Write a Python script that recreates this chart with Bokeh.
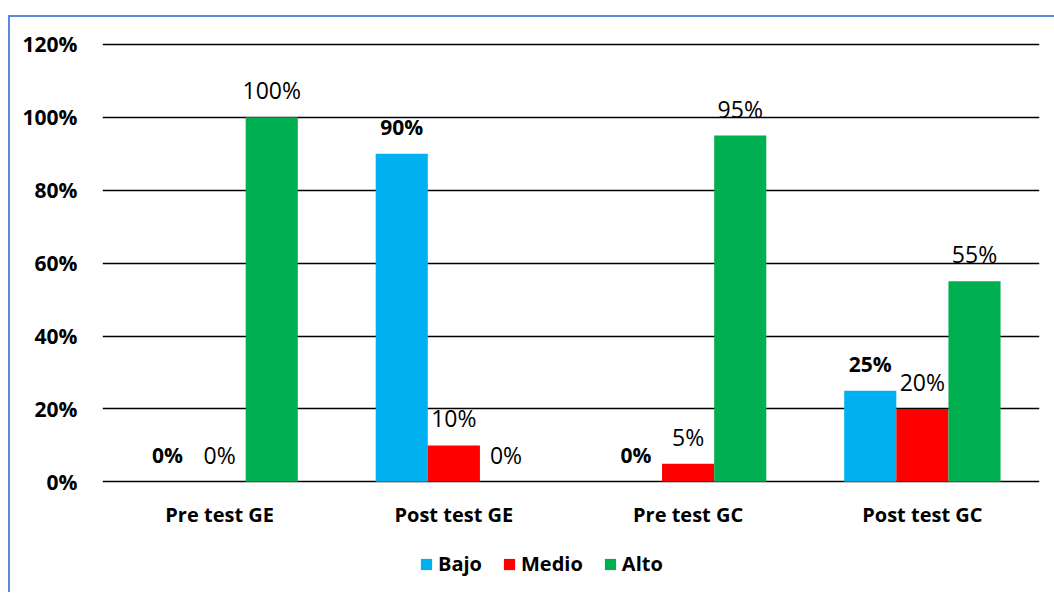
from bokeh.plotting import figure
from bokeh.layouts import column
from bokeh.models import (ColumnDataSource, FactorRange, Range1d, Legend, LegendItem,
                          FixedTicker, NumeralTickFormatter)
from bokeh.transform import dodge
from bokeh.core.properties import value
from bokeh.embed import file_html
from bokeh.resources import INLINE

# Data
groups = ["Pre test GE", "Post test GE", "Pre test GC", "Post test GC"]
bajo = [0.00, 0.90, 0.00, 0.25]
medio = [0.00, 0.10, 0.05, 0.20]
alto = [1.00, 0.00, 0.95, 0.55]
series = ["Bajo", "Medio", "Alto"]
colors = ["#00B0F0", "#FF0000", "#00B050"]
y_ticks = [0, 0.2, 0.4, 0.6, 0.8, 1.0, 1.2]

FONT = "Open Sans"
BAR_W = 0.2225

# Main bar chart
p = figure(x_range=FactorRange(*groups), y_range=Range1d(-0.01, 1.23),
           width=1046, height=518, output_backend="svg", toolbar_location=None,
           min_border_left=92, min_border_right=17, min_border_top=16,
           min_border_bottom=50)
p.outline_line_color = None

p.xgrid.grid_line_color = None
p.ygrid.ticker = FixedTicker(ticks=y_ticks)
p.ygrid.grid_line_color = "#000000"
p.ygrid.grid_line_width = 1.5

p.yaxis.ticker = FixedTicker(ticks=y_ticks)
p.yaxis.formatter = NumeralTickFormatter(format="0%")
for ax in (p.xaxis, p.yaxis):
    ax.axis_line_color = None
    ax.major_tick_line_color = None
    ax.minor_tick_line_color = None
    ax.major_label_text_font = FONT
    ax.major_label_text_font_style = "bold"
    ax.major_label_text_color = "#000000"
p.yaxis.major_label_text_font_size = "21px"
p.xaxis.major_label_text_font_size = "20px"
p.yaxis.major_label_standoff = 19
p.xaxis.major_label_standoff = 9

src = ColumnDataSource(dict(
    group=groups,
    Bajo=bajo, Medio=medio, Alto=alto,
    Bajo_lbl=[f"{round(v * 100)}%" for v in bajo],
    Medio_lbl=[f"{round(v * 100)}%" for v in medio],
    Alto_lbl=[f"{round(v * 100)}%" for v in alto],
))

offsets = [-BAR_W, 0.0, BAR_W]
for name, col, off in zip(series, colors, offsets):
    p.vbar(x=dodge("group", off, range=p.x_range), top=name, width=BAR_W,
           source=src, fill_color=col, line_color=None)
    bold = name == "Bajo"
    p.text(x=dodge("group", off, range=p.x_range), y=name, text=name + "_lbl",
           source=src, text_align="center", text_baseline="middle",
           y_offset=-27, text_font=value(FONT),
           text_font_style="bold" if bold else "normal",
           text_font_size="21px" if bold else "23px", text_color="#000000")

# Legend strip under the chart (its frame lines up with the chart frame)
lf = figure(width=1046, height=57, output_backend="svg", toolbar_location=None,
            x_range=Range1d(0, 1), y_range=Range1d(0, 1),
            x_axis_location=None, y_axis_location=None, min_border=0)
lf.outline_line_color = None
lf.grid.grid_line_color = None
items = []
for name, col in zip(series, colors):
    r = lf.vbar(x=[-5], top=[0], width=0.1, fill_color=col, line_color=None)
    items.append(LegendItem(label=name, renderers=[r]))
legend = Legend(items=items, orientation="horizontal", location=(317, 15),
                label_text_font=FONT, label_text_font_style="bold",
                label_text_font_size="20px", label_text_color="#000000",
                glyph_width=14, glyph_height=14, label_standoff=5, spacing=20,
                padding=0, margin=0, border_line_color=None,
                background_fill_alpha=0)
lf.add_layout(legend, "center")

# Chart box starting at (8, 15) and running past the window edges
layout = column(p, lf, spacing=0)
layout.margin = (15, 0, 0, 8)
layout.styles = {"border-top": "2px solid #5B8BD6", "border-left": "2px solid #5B8BD6"}

open("out.html", "w").write(file_html(layout, INLINE))
